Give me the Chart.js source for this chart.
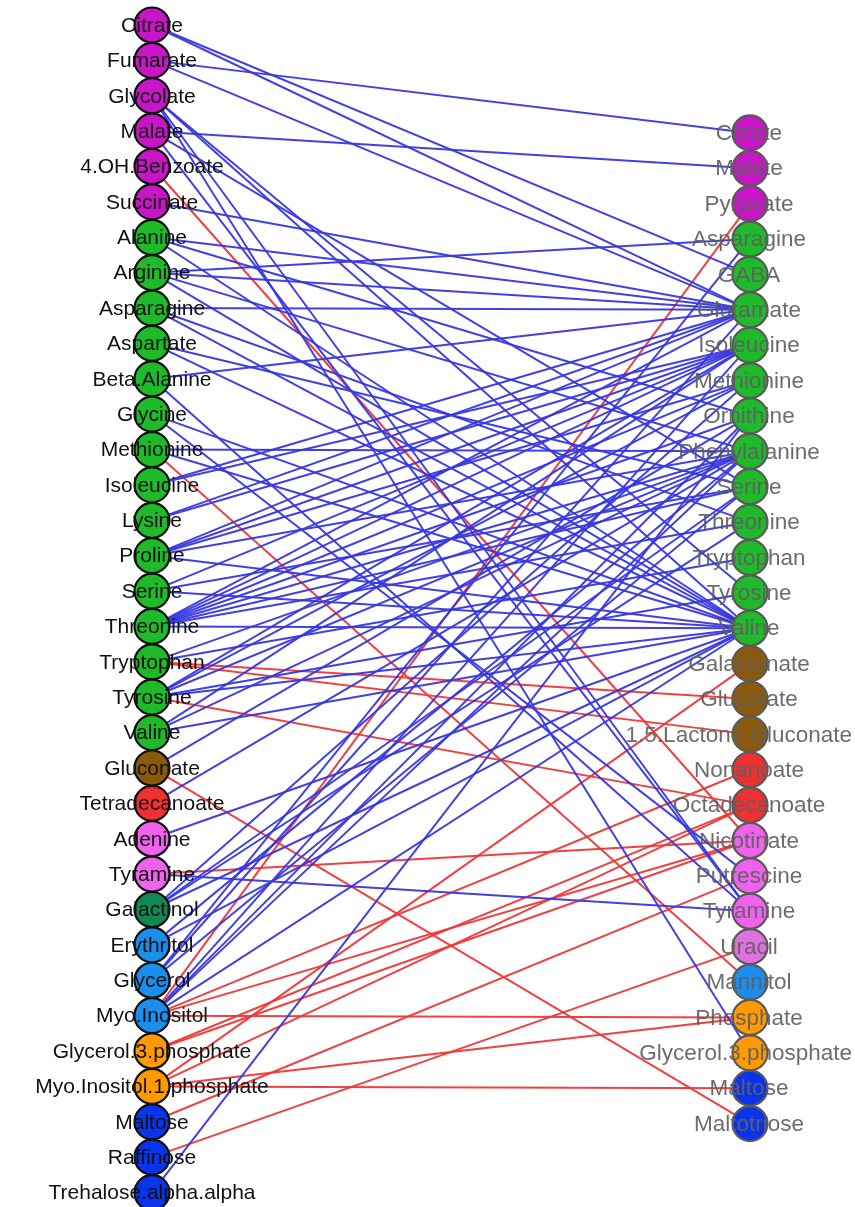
<!DOCTYPE html>
<html><head><meta charset="utf-8">
<script src="https://cdn.jsdelivr.net/npm/chart.js@4.4.1/dist/chart.umd.min.js"></script>
<style>html,body{margin:0;padding:0;background:#fff;}#wrap{width:855px;height:1207px;}</style>
</head><body><div id="wrap"><canvas id="c" width="855" height="1207"></canvas></div>
<script>
const leftNodes = ['Citrate','Fumarate','Glycolate','Malate','4.OH.Benzoate','Succinate','Alanine','Arginine','Asparagine','Aspartate','Beta.Alanine','Glycine','Methionine','Isoleucine','Lysine','Proline','Serine','Threonine','Tryptophan','Tyrosine','Valine','Gluconate','Tetradecanoate','Adenine','Tyramine','Galactinol','Erythritol','Glycerol','Myo.Inositol','Glycerol.3.phosphate','Myo.Inositol.1.phosphate','Maltose','Raffinose','Trehalose.alpha.alpha'];
const leftGroups = ['acid','acid','acid','acid','acid','acid','amino','amino','amino','amino','amino','amino','amino','amino','amino','amino','amino','amino','amino','amino','amino','sugacid','fatty','nitro','nitro','galact','polyol','polyol','polyol','phos','phos','sugar','sugar','sugar'];
const rightNodes = ['Citrate','Malate','Pyruvate','Asparagine','GABA','Glutamate','Isoleucine','Methionine','Ornithine','Phenylalanine','Serine','Threonine','Tryptophan','Tyrosine','Valine','Galactonate','Glucarate','1.5.Lactone.Gluconate','Nonanoate','Octadecanoate','Nicotinate','Putrescine','Tyramine','Uracil','Mannitol','Phosphate','Glycerol.3.phosphate','Maltose','Maltotriose'];
const rightGroups = ['acid','acid','acid','amino','amino','amino','amino','amino','amino','amino','amino','amino','amino','amino','amino','sugacid','sugacid','sugacid','fatty','fatty','nitro','nitro','nitro','nitro2','polyol','phos','phos','sugar','sugar'];
const groupColors = {acid:'#C815C8',amino:'#1FBA2A',sugacid:'#8A5A0A',fatty:'#EE3030',nitro:'#EE62EE',nitro2:'#E070E0',galact:'#108A52',polyol:'#1A8EEA',phos:'#FF9A00',sugar:'#0A34EC'};
const rightOffset = 3.05;

// [left node, right node]
const blueEdges = [
 ['Citrate','GABA'],['Citrate','Glutamate'],
 ['Fumarate','Citrate'],['Fumarate','Glutamate'],
 ['Glycolate','Glycerol.3.phosphate'],['Glycolate','Tyramine'],['Glycolate','Valine'],['Glycolate','Tyrosine'],
 ['Malate','Malate'],['Malate','Serine'],['Malate','Tyramine'],
 ['Succinate','Glutamate'],
 ['Alanine','Glutamate'],['Alanine','Ornithine'],['Alanine','Valine'],
 ['Arginine','Asparagine'],['Arginine','Glutamate'],['Arginine','Phenylalanine'],['Arginine','Valine'],
 ['Asparagine','Glutamate'],['Asparagine','Valine'],['Asparagine','Threonine'],
 ['Aspartate','Serine'],['Aspartate','Valine'],
 ['Beta.Alanine','Glutamate'],['Beta.Alanine','Tyramine'],
 ['Glycine','Valine'],['Glycine','Putrescine'],
 ['Methionine','Phenylalanine'],['Methionine','Valine'],
 ['Isoleucine','Isoleucine'],['Isoleucine','Glutamate'],
 ['Lysine','Glutamate'],['Lysine','Isoleucine'],
 ['Proline','Glutamate'],['Proline','Isoleucine'],['Proline','Methionine'],['Proline','Valine'],['Proline','Phenylalanine'],
 ['Serine','Isoleucine'],['Serine','Serine'],['Serine','Valine'],
 ['Threonine','Glutamate'],['Threonine','Isoleucine'],['Threonine','Methionine'],['Threonine','Ornithine'],['Threonine','Phenylalanine'],['Threonine','Serine'],['Threonine','Threonine'],['Threonine','Valine'],
 ['Tryptophan','Phenylalanine'],['Tryptophan','Tryptophan'],
 ['Tyrosine','Isoleucine'],['Tyrosine','Methionine'],['Tyrosine','Phenylalanine'],['Tyrosine','Tyrosine'],['Tyrosine','Valine'],
 ['Valine','Isoleucine'],['Valine','Phenylalanine'],['Valine','Valine'],
 ['Gluconate','Ornithine'],
 ['Tetradecanoate','Phenylalanine'],
 ['Adenine','Valine'],
 ['Tyramine','Tyramine'],
 ['Galactinol','Serine'],['Galactinol','Threonine'],['Galactinol','Valine'],['Galactinol','Methionine'],
 ['Erythritol','Valine'],['Erythritol','Phenylalanine'],
 ['Glycerol','Asparagine'],['Glycerol','Glutamate'],['Glycerol','Serine'],
 ['Myo.Inositol','Isoleucine'],['Myo.Inositol','Ornithine'],['Myo.Inositol','Phenylalanine'],['Myo.Inositol','Valine'],
 ['Trehalose.alpha.alpha','Ornithine']
];
const redEdges = [
 ['4.OH.Benzoate','Nicotinate'],
 ['Methionine','Mannitol'],
 ['Tryptophan','Glucarate'],['Tryptophan','1.5.Lactone.Gluconate'],
 ['Tyrosine','Octadecanoate'],
 ['Gluconate','Maltotriose'],
 ['Tyramine','Nicotinate'],
 ['Myo.Inositol','Pyruvate'],['Myo.Inositol','Phosphate'],['Myo.Inositol','Nonanoate'],['Myo.Inositol','Nicotinate'],
 ['Glycerol.3.phosphate','Octadecanoate'],['Glycerol.3.phosphate','Nicotinate'],
 ['Myo.Inositol.1.phosphate','Maltose'],['Myo.Inositol.1.phosphate','Phosphate'],['Myo.Inositol.1.phosphate','Galactonate'],['Myo.Inositol.1.phosphate','Octadecanoate'],
 ['Maltose','Putrescine'],
 ['Raffinose','Uracil']
];

function edgeDataset(e, color){
  const li = leftNodes.indexOf(e[0]);
  const rj = rightNodes.indexOf(e[1]);
  return {type:'line', data:[{x:0,y:li},{x:1,y:rj+rightOffset}], borderColor:color, borderWidth:2,
          pointRadius:0, pointHoverRadius:0, fill:false, tension:0, order:2};
}
const datasets = [];
datasets.push({type:'scatter', label:'left', order:0,
  data: leftNodes.map((n,i)=>({x:0,y:i})),
  pointRadius:17.5, pointHoverRadius:17.5, borderWidth:2.2, borderColor:'#111',
  backgroundColor: leftGroups.map(g=>groupColors[g])});
datasets.push({type:'scatter', label:'right', order:0,
  data: rightNodes.map((n,j)=>({x:1,y:j+rightOffset})),
  pointRadius:17.5, pointHoverRadius:17.5, borderWidth:2.2, borderColor:'#5a5a5a',
  backgroundColor: rightGroups.map(g=>groupColors[g])});
blueEdges.forEach(e=>datasets.push(edgeDataset(e,'rgba(55,55,225,0.95)')));
redEdges.forEach(e=>datasets.push(edgeDataset(e,'rgba(238,55,55,0.95)')));

const labelPlugin = {
  id:'labels',
  afterDatasetsDraw(chart){
    const ctx = chart.ctx, xs = chart.scales.x, ys = chart.scales.y;
    ctx.save();
    ctx.textAlign = 'center';
    ctx.textBaseline = 'middle';
    ctx.font = '21px "Liberation Sans", Arial, sans-serif';
    ctx.fillStyle = '#111';
    leftNodes.forEach((n,i)=>ctx.fillText(n, xs.getPixelForValue(0), ys.getPixelForValue(i)+1));
    ctx.font = '22.5px "Liberation Sans", Arial, sans-serif';
    ctx.fillStyle = 'rgba(95,95,95,0.92)';
    const rx = xs.getPixelForValue(1);
    rightNodes.forEach((n,j)=>{
      const w = ctx.measureText(n).width;
      const cx = Math.min(rx - 1, chart.width - 3 - w/2);
      ctx.fillText(n, cx, ys.getPixelForValue(j+rightOffset)+1);
    });
    ctx.restore();
  }
};

new Chart(document.getElementById('c'), {
  type:'scatter',
  data:{datasets},
  options:{
    responsive:false, animation:false, devicePixelRatio:1,
    layout:{padding:0, autoPadding:false},
    plugins:{legend:{display:false}, tooltip:{enabled:false}},
    events:[],
    scales:{
      x:{type:'linear', display:false, min:-152/598, max:-152/598+855/598},
      y:{type:'linear', display:false, reverse:true, min:-25/35.38, max:-25/35.38+1207/35.38}
    }
  },
  plugins:[labelPlugin]
});
</script></body></html>
